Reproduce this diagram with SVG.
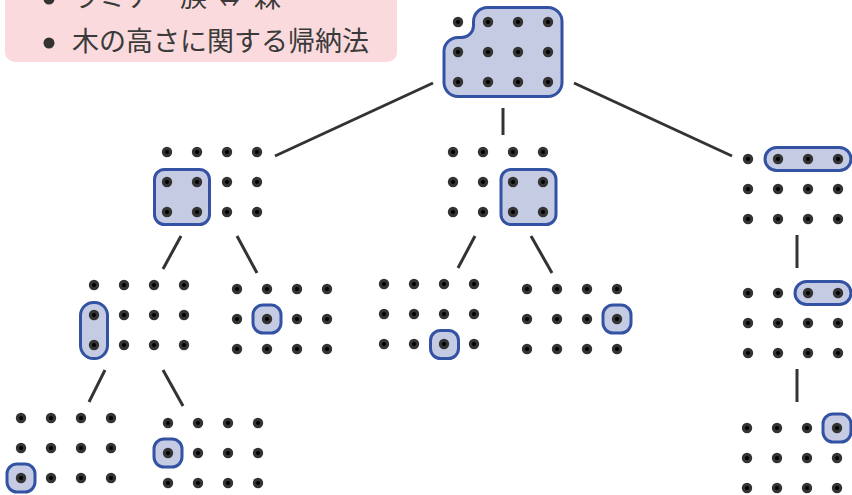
<svg xmlns="http://www.w3.org/2000/svg" xmlns:xlink="http://www.w3.org/1999/xlink" width="852" height="495" viewBox="0 0 852 495">
<style>
.hl{fill:#c4cbe2;stroke:#3452a3;stroke-width:3}
.edge{stroke:#333;stroke-width:3;fill:none}
.txt{font-family:"Noto Sans CJK JP","Noto Sans",sans-serif;font-size:27px;fill:#3a3a3a}
</style>
<defs>
<g id="dot"><circle r="5.2" fill="#333"/><circle r="2" fill="#000"/></g>
<g id="row"><use href="#dot"/><use href="#dot" x="30"/><use href="#dot" x="60"/><use href="#dot" x="90"/></g>
<g id="grid"><use href="#row"/><use href="#row" y="30"/><use href="#row" y="60"/></g>
</defs>
<rect width="852" height="495" fill="#fff"/>
<g id="note">
<rect x="5" y="-12" width="392" height="74" rx="10" fill="#fadadd"/>
<circle cx="49" cy="-1" r="5.5" fill="#333"/>
<text class="txt" x="72" y="7">ラミナー族<tspan x="216">⇔</tspan><tspan x="254">森</tspan></text>
<circle cx="49" cy="43" r="5.5" fill="#333"/>
<text class="txt" x="72" y="51">木の高さに関する帰納法</text>
</g>
<g id="connectors">
<line class="edge" x1="433" y1="83" x2="275" y2="156"/>
<line class="edge" x1="503" y1="108" x2="503" y2="135"/>
<line class="edge" x1="574" y1="83" x2="732" y2="156"/>
<line class="edge" x1="181" y1="236" x2="163" y2="269"/>
<line class="edge" x1="237" y1="236" x2="257" y2="273"/>
<line class="edge" x1="475" y1="236" x2="458" y2="268"/>
<line class="edge" x1="531" y1="236" x2="552" y2="273"/>
<line class="edge" x1="797" y1="235" x2="797" y2="268"/>
<line class="edge" x1="797" y1="369" x2="797" y2="402"/>
<line class="edge" x1="105" y1="370" x2="89" y2="402"/>
<line class="edge" x1="163" y1="370" x2="183" y2="406"/>
</g>
<g id="root" transform="translate(458,22)">
<path class="hl" d="M30,-14.5 H90 A14,14 0 0 1 104,0 V60 A14,14 0 0 1 90,74.5 H0 A14,14 0 0 1 -14,60 V30 A14,14 0 0 1 0,15.5 H3.5 A12,12 0 0 0 15.5,3.5 V0 A14,14 0 0 1 30,-14.5 Z"/>
<use href="#grid"/>
</g>
<g id="l1a" transform="translate(167,152)">
<rect class="hl" x="-12.5" y="17.5" width="55" height="55" rx="10"/>
<use href="#grid"/>
</g>
<g id="l1b" transform="translate(453,152)">
<rect class="hl" x="48" y="17.5" width="55" height="55" rx="10"/>
<use href="#grid"/>
</g>
<g id="l1c" transform="translate(748,159)">
<rect class="hl" x="17" y="-11.5" width="86" height="23" rx="11.5"/>
<use href="#grid"/>
</g>
<g id="l2a" transform="translate(94,285)">
<rect class="hl" x="-13.5" y="17.5" width="27" height="56" rx="13"/>
<use href="#grid"/>
</g>
<g id="l2b" transform="translate(237,289)">
<rect class="hl" x="16" y="16" width="28" height="28" rx="10"/>
<use href="#grid"/>
</g>
<g id="l2c" transform="translate(384,284)">
<rect class="hl" x="46.5" y="46.5" width="28" height="28" rx="10"/>
<use href="#grid"/>
</g>
<g id="l2d" transform="translate(527,289)">
<rect class="hl" x="76" y="16" width="28" height="28" rx="10"/>
<use href="#grid"/>
</g>
<g id="l2e" transform="translate(748,293)">
<rect class="hl" x="47" y="-11.5" width="56" height="23" rx="11.5"/>
<use href="#grid"/>
</g>
<g id="l3a" transform="translate(21,418)">
<rect class="hl" x="-14" y="46" width="28" height="28" rx="10"/>
<use href="#grid"/>
</g>
<g id="l3b" transform="translate(168,423)">
<rect class="hl" x="-14" y="16" width="28" height="28" rx="10"/>
<use href="#grid"/>
</g>
<g id="l3e" transform="translate(747,428)">
<rect class="hl" x="76" y="-14" width="28" height="28" rx="10"/>
<use href="#grid"/>
</g>
</svg>
